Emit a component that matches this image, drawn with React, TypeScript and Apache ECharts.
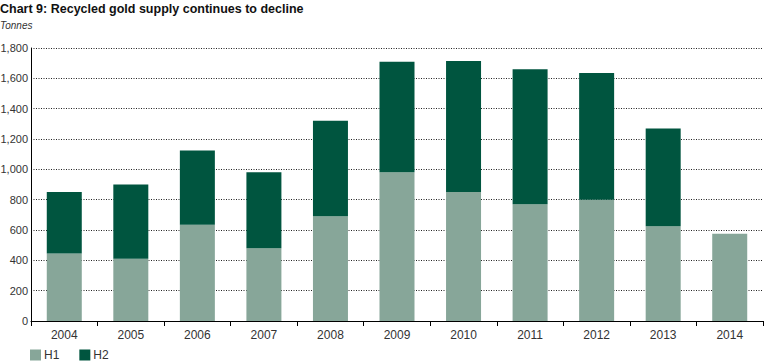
import React, { useEffect, useRef } from "react";
import * as echarts from "echarts";

const years = ["2004", "2005", "2006", "2007", "2008", "2009", "2010", "2011", "2012", "2013", "2014"];
const h1 = [445, 410, 635, 480, 690, 980, 850, 770, 800, 625, 575];
const h2 = [405, 490, 490, 500, 630, 730, 865, 890, 835, 645, null];
const yTicks = { min: 0, max: 1800, interval: 200 };

const LIGHT = "#87A699";
const DARK = "#00553F";
const FONT = "Arial, 'Liberation Sans', sans-serif";

export default function App() {
  const ref = useRef<HTMLDivElement>(null);
  useEffect(() => {
    if (!ref.current) return;
    const chart = echarts.init(ref.current, undefined, { renderer: "svg" });
    chart.setOption({
      animation: false,
      backgroundColor: "#fff",
      textStyle: { fontFamily: FONT },
      graphic: [
        {
          type: "text",
          left: 0,
          top: 2,
          style: {
            text: "Chart 9: Recycled gold supply continues to decline",
            font: `bold 12.5px ${FONT}`,
            fill: "#111",
          },
        },
        {
          type: "text",
          left: 0,
          top: 20,
          style: {
            text: "Tonnes",
            font: `italic 10px ${FONT}`,
            fill: "#333",
          },
        },
      ],
      legend: {
        left: 25,
        bottom: -3,
        itemWidth: 11,
        itemHeight: 11,
        itemGap: 20,
        icon: "rect",
        textStyle: { fontSize: 12, color: "#333", fontFamily: FONT, padding: [0, 0, 0, -2] },
        data: ["H1", "H2"],
      },
      grid: { left: 31, right: 5, top: 48, bottom: 42, outerBoundsMode: "none", containLabel: false },
      xAxis: {
        type: "category",
        data: years,
        axisLine: { lineStyle: { color: "#000", width: 1 } },
        axisTick: { show: true, interval: 0, length: 5, lineStyle: { color: "#000" } },
        axisLabel: { color: "#333", fontSize: 12, margin: 8, interval: 0 },
      },
      yAxis: {
        type: "value",
        min: yTicks.min,
        max: yTicks.max,
        interval: yTicks.interval,
        axisLine: { show: true, lineStyle: { color: "#000", width: 1 } },
        axisTick: { show: false },
        axisLabel: {
          color: "#333",
          fontSize: 11,
          margin: 3,
          formatter: (v: number) => v.toLocaleString("en-US"),
        },
        splitLine: { show: true, lineStyle: { color: "#222", type: [1, 1.5], width: 1 } },
      },
      series: [
        {
          name: "H1",
          type: "bar",
          stack: "total",
          barWidth: 35,
          data: h1,
          itemStyle: { color: LIGHT },
        },
        {
          name: "H2",
          type: "bar",
          stack: "total",
          barWidth: 35,
          data: h2,
          itemStyle: { color: DARK },
        },
      ],
    });
    return () => chart.dispose();
  }, []);
  return (
    <div
      ref={ref}
      style={{ position: "fixed", left: 0, top: 0, width: 768, height: 363 }}
    />
  );
}
